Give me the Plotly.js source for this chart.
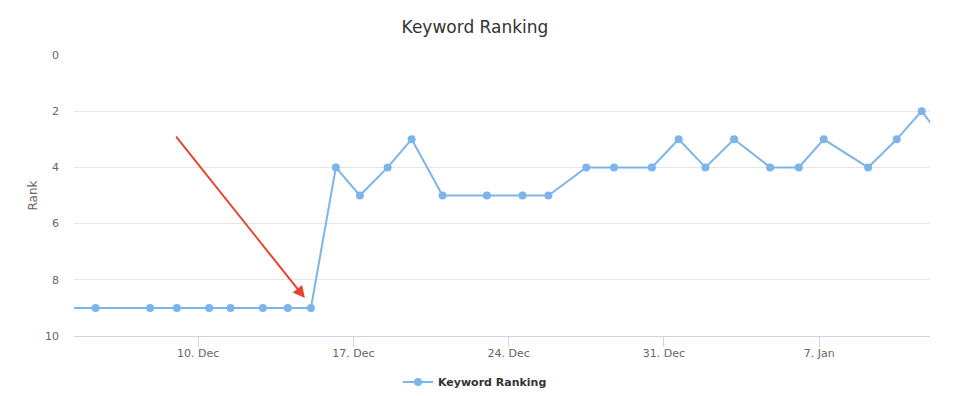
<!DOCTYPE html>
<html>
<head>
<meta charset="utf-8">
<script src="https://cdn.plot.ly/plotly-3.0.1.min.js"></script>
<style>
html,body{margin:0;padding:0;background:#fff;}
#chart{width:956px;height:396px;}
</style>
</head>
<body>
<div id="chart"></div>
<script>
// Observation timestamps (irregular) and keyword rank values
var dates = [
  "2016-12-03 12:00", "2016-12-05 09:00", "2016-12-07 20:00", "2016-12-09 01:00",
  "2016-12-10 12:00", "2016-12-11 11:00", "2016-12-12 22:00", "2016-12-14 01:00",
  "2016-12-15 02:00", "2016-12-16 05:00", "2016-12-17 07:00", "2016-12-18 13:00",
  "2016-12-19 15:00", "2016-12-21 00:30", "2016-12-23 00:30", "2016-12-24 15:00",
  "2016-12-25 19:00", "2016-12-27 12:00", "2016-12-28 18:00", "2016-12-30 11:00",
  "2016-12-31 16:00", "2017-01-01 21:00", "2017-01-03 04:00", "2017-01-04 19:00",
  "2017-01-06 02:00", "2017-01-07 05:00", "2017-01-09 05:00", "2017-01-10 12:00",
  "2017-01-11 15:00", "2017-01-12 14:00"
];
var ranks = [
  9, 9, 9, 9,
  9, 9, 9, 9,
  9, 4, 5, 4,
  3, 5, 5, 5,
  5, 4, 4, 4,
  3, 4, 3, 4,
  4, 3, 4, 3,
  2, 3
];
var seriesName = "Keyword Ranking";
var chartTitle = "Keyword Ranking";
var yTitle = "Rank";
var yTicks = [0, 2, 4, 6, 8, 10];
var arrowHead = {date: "2016-12-14 19:30", rank: 8.65};

var font = "'DejaVu Sans', 'Liberation Sans', sans-serif";

var trace = {
  x: dates,
  y: ranks,
  type: "scatter",
  mode: "lines+markers",
  name: seriesName,
  line: {color: "#7cb5ec", width: 2},
  marker: {color: "#7cb5ec", size: 8},
  showlegend: true,
  cliponaxis: true
};

var layout = {
  width: 956,
  height: 396,
  margin: {l: 74, r: 26, t: 55, b: 60},
  paper_bgcolor: "#ffffff",
  plot_bgcolor: "#ffffff",
  font: {family: font, color: "#666666", size: 11},
  title: {
    text: chartTitle,
    x: 475/956, xref: "container", xanchor: "center",
    y: 1 - 27/396, yref: "container", yanchor: "middle",
    font: {family: font, size: 17, color: "#333333"}
  },
  xaxis: {
    type: "date",
    range: ["2016-12-04 09:36", "2017-01-12 00:00"],
    tick0: "2016-12-10",
    dtick: 7 * 24 * 3600 * 1000,
    tickformat: "%-d. %b",
    ticks: "outside",
    ticklen: 10,
    tickwidth: 1,
    tickcolor: "#ccd6eb",
    ticklabelstandoff: -3,
    showline: true,
    linecolor: "#ccd6eb",
    linewidth: 1,
    showgrid: false,
    zeroline: false,
    automargin: false,
    tickfont: {family: font, size: 11, color: "#666666"}
  },
  yaxis: {
    range: [10, 0],
    autorange: false,
    tickvals: yTicks,
    ticktext: yTicks.map(String),
    showgrid: true,
    gridcolor: "#e6e6e6",
    gridwidth: 1,
    zeroline: false,
    showline: false,
    ticks: "",
    ticklabelstandoff: 14,
    automargin: false,
    tickfont: {family: font, size: 11, color: "#666666"},
    title: {text: yTitle, font: {family: font, size: 12, color: "#666666"}, standoff: 4}
  },
  legend: {
    orientation: "h",
    xref: "container", yref: "container",
    x: 475/956, xanchor: "center",
    y: 1 - 382/396, yanchor: "middle",
    font: {family: font, size: 11, color: "#333333", weight: "bold"},
    bgcolor: "rgba(0,0,0,0)"
  },
  annotations: [{
    x: arrowHead.date,
    y: arrowHead.rank,
    xref: "x", yref: "y",
    text: "",
    showarrow: true,
    arrowhead: 2,
    arrowsize: 1.2,
    arrowwidth: 2,
    arrowcolor: "#e8432f",
    ax: -130,
    ay: -163,
    standoff: 0
  }]
};

Plotly.newPlot("chart", [trace], layout, {displayModeBar: false, staticPlot: true});
</script>
</body>
</html>
